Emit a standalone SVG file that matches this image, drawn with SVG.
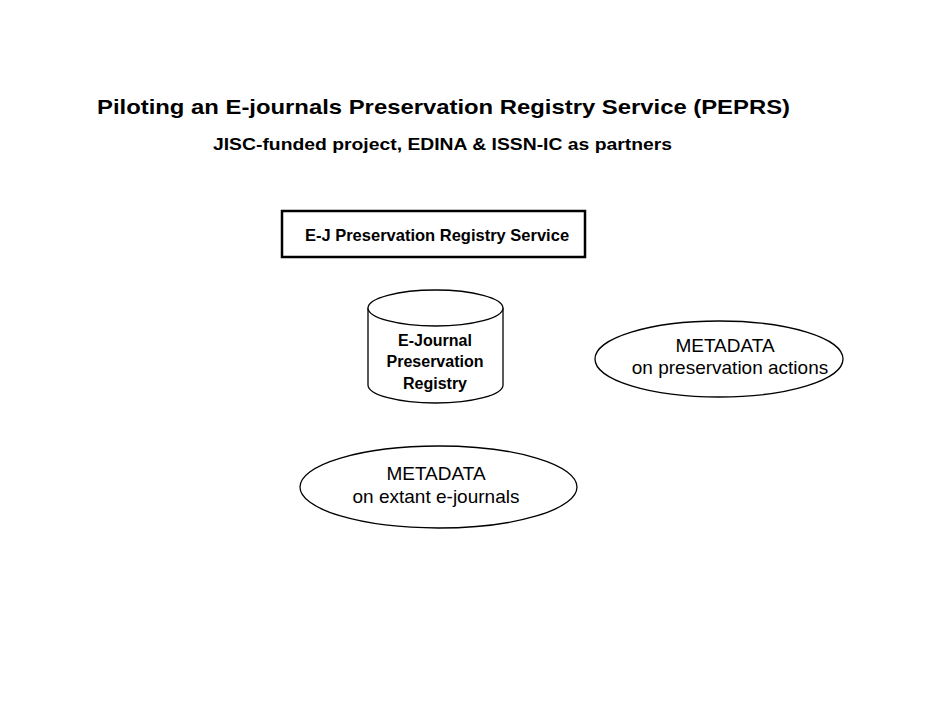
<svg xmlns="http://www.w3.org/2000/svg" width="942" height="728" viewBox="0 0 942 728">
<style>
text{font-family:"Liberation Sans",Arial,sans-serif;fill:#000}
.b{font-weight:bold}
.s{fill:#fff;stroke:#000;stroke-width:1.3}
.c{text-anchor:middle}
</style>
<rect width="942" height="728" fill="#fff"/>
<text class="b" x="97" y="114" font-size="21" textLength="693" lengthAdjust="spacingAndGlyphs">Piloting an E-journals Preservation Registry Service (PEPRS)</text>
<text class="b" x="213" y="150" font-size="17" textLength="459" lengthAdjust="spacingAndGlyphs">JISC-funded project, EDINA &amp; ISSN-IC as partners</text>
<g id="service">
<rect x="282" y="211" width="303" height="46" fill="#fff" stroke="#000" stroke-width="2.5"/>
<text class="b c" x="437" y="241" font-size="16.5">E-J Preservation Registry Service</text>
</g>
<g id="registry">
<path class="s" d="M368,308 V385 A67.5,18 0 0 0 503,385 V308"/>
<ellipse class="s" cx="435.5" cy="308" rx="67.5" ry="18"/>
<text class="b c" x="435" y="346" font-size="16">E-Journal</text>
<text class="b c" x="435" y="367" font-size="16">Preservation</text>
<text class="b c" x="435" y="389" font-size="16">Registry</text>
</g>
<g id="meta-actions">
<ellipse class="s" cx="719" cy="359" rx="124" ry="38"/>
<text class="c" x="725" y="352" font-size="19">METADATA</text>
<text class="c" x="730" y="374" font-size="19">on preservation actions</text>
</g>
<g id="meta-extant">
<ellipse class="s" cx="438.5" cy="487" rx="138.5" ry="41"/>
<text class="c" x="436" y="480" font-size="19">METADATA</text>
<text class="c" x="436" y="503" font-size="19">on extant e-journals</text>
</g>
<g id="connectors"/>
</svg>
